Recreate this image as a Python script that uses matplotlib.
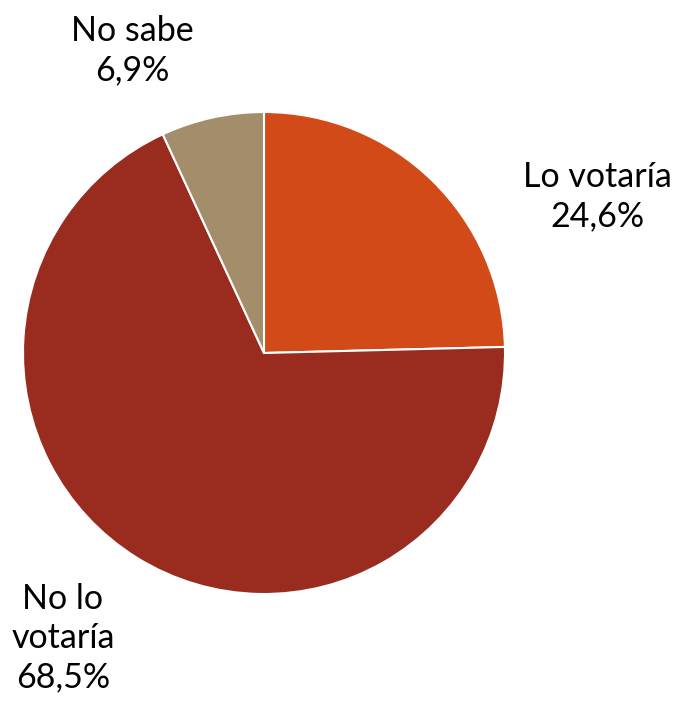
import matplotlib
matplotlib.use("Agg")
import matplotlib.pyplot as plt

categories = ["Lo votaría", "No lo votaría", "No sabe"]
values = [24.6, 68.5, 6.9]
label_texts = ["Lo votaría\n24,6%", "No lo\nvotaría\n68,5%", "No sabe\n6,9%"]
colors = ["#D24A18", "#9A2B1F", "#A38D6A"]

W, H = 677, 701
fig = plt.figure(figsize=(W / 100, H / 100), dpi=100)
cx, cy, r = 264, 353, 241
ax = fig.add_axes([(cx - r) / W, (H - cy - r) / H, 2 * r / W, 2 * r / H])
ax.pie(values, colors=colors, startangle=90, counterclock=False,
       wedgeprops=dict(edgecolor="white", linewidth=1.5), radius=1)
ax.set_xlim(-1.0, 1.0)
ax.set_ylim(-1.0, 1.0)
ax.set_aspect("auto")
ax.axis("off")

font = dict(family=["Lato", "DejaVu Sans"], fontsize=24.5, color="black",
            ha="center", va="center", linespacing=1.28)
pos = [(597, 197), (63, 638), (132, 51)]
for (x, y), t in zip(pos, label_texts):
    fig.text(x / W, 1 - y / H, t, **font)

fig.savefig("out.png", dpi=100, facecolor="white")
